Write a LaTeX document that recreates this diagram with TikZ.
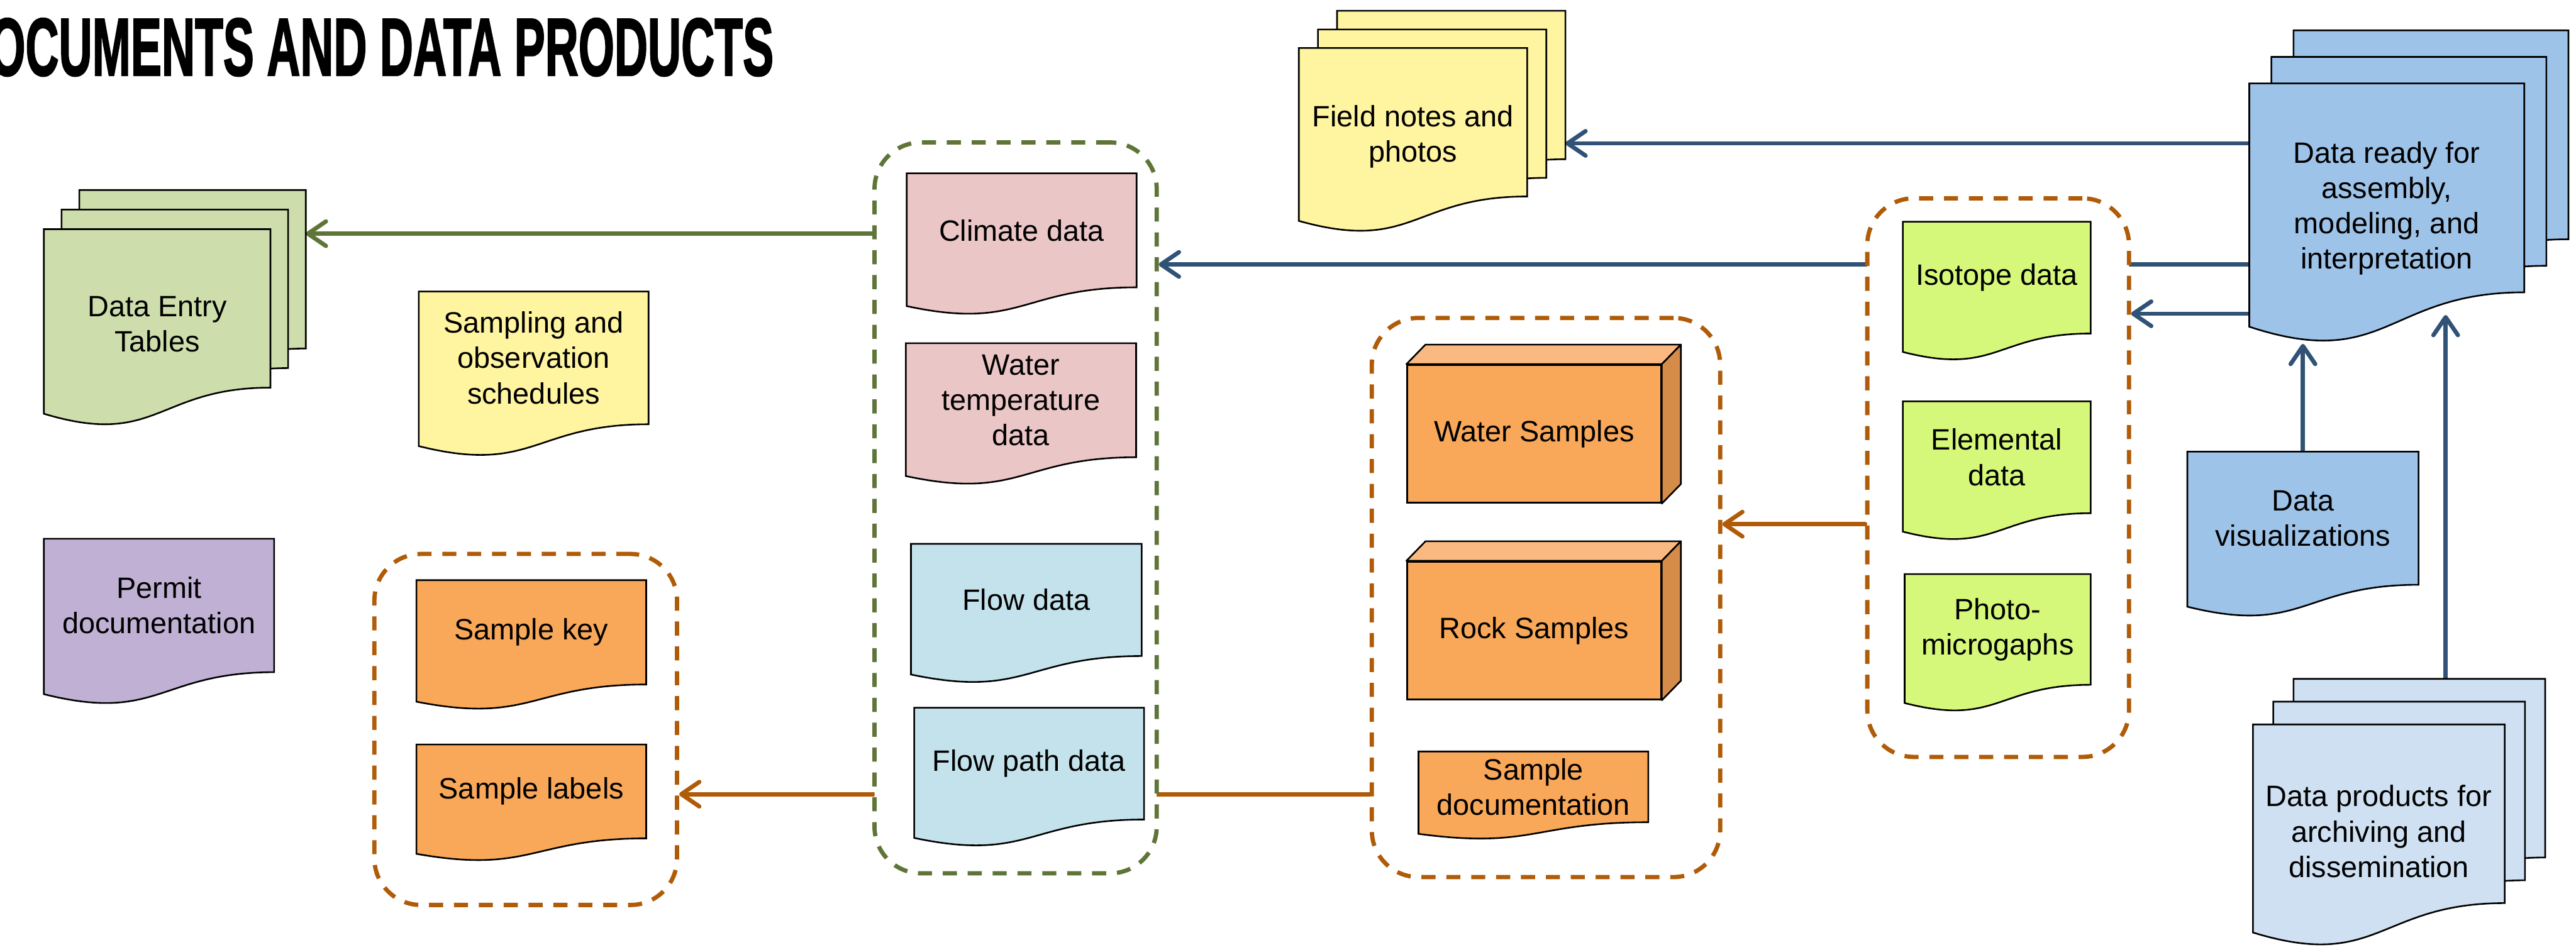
\documentclass[tikz,border=0pt]{standalone}
\usepackage{fontspec}
\setmainfont{Liberation Sans}
\newfontfamily\titlefont[BoldFeatures={FakeBold=2}]{Liberation Sans}
\usetikzlibrary{arrows.meta, positioning, calc}

\definecolor{olivegreen}{RGB}{95,117,55}
\definecolor{rust}{RGB}{175,91,7}
\definecolor{steelblue}{RGB}{48,82,118}
\definecolor{entrygreen}{RGB}{205,222,172}
\definecolor{noteyellow}{RGB}{255,244,160}
\definecolor{permitpurple}{RGB}{192,177,212}
\definecolor{samporange}{RGB}{248,168,88}
\definecolor{cubetop}{RGB}{250,185,128}
\definecolor{cubeside}{RGB}{212,140,72}
\definecolor{climatepink}{RGB}{235,198,198}
\definecolor{flowblue}{RGB}{196,226,235}
\definecolor{isolime}{RGB}{214,248,122}
\definecolor{readyblue}{RGB}{158,195,232}
\definecolor{prodblue}{RGB}{206,224,242}

\pgfdeclarelayer{background}
\pgfdeclarelayer{frames}
\pgfsetlayers{background,frames,main}

% flowchart "document" shape: rectangle with a wavy bottom
\newdimen\docxa \newdimen\docxb \newdimen\docxm
\newdimen\docyt \newdimen\docyr \newdimen\docyc \newdimen\docyl \newdimen\doch
\pgfkeys{/pgf/document raise/.initial=0.099}
\makeatletter
\pgfdeclareshape{document}{
  \inheritsavedanchors[from=rectangle]
  \inheritanchorborder[from=rectangle]
  \inheritanchor[from=rectangle]{center}
  \inheritanchor[from=rectangle]{north}
  \inheritanchor[from=rectangle]{south}
  \inheritanchor[from=rectangle]{east}
  \inheritanchor[from=rectangle]{west}
  \inheritanchor[from=rectangle]{north east}
  \inheritanchor[from=rectangle]{north west}
  \inheritanchor[from=rectangle]{south east}
  \inheritanchor[from=rectangle]{south west}
  % text sits above the wave
  \anchor{text}{%
    \northeast \pgf@ya=\pgf@y
    \southwest \advance\pgf@ya by -\pgf@y
    \pgf@x=0pt
    \pgf@y=\pgfkeysvalueof{/pgf/document raise}\pgf@ya
  }
  \backgroundpath{%
    \southwest \docxa=\pgf@x
    \northeast \docxb=\pgf@x \docyt=\pgf@y
    \southwest \doch=\docyt \advance\doch by -\pgf@y
    \docxm=\docxa \advance\docxm by \docxb \docxm=0.5\docxm
    \docyr=\docyt \advance\docyr by -0.802\doch
    \docyc=\docyt \advance\docyc by -1.1075\doch
    \docyl=\docyt \advance\docyl by -0.934\doch
    \pgfpathmoveto{\pgfqpoint{\docxa}{\docyt}}
    \pgfpathlineto{\pgfqpoint{\docxb}{\docyt}}
    \pgfpathlineto{\pgfqpoint{\docxb}{\docyr}}
    \pgfpathcurveto{\pgfqpoint{\docxm}{\docyr}}{\pgfqpoint{\docxm}{\docyc}}{\pgfqpoint{\docxa}{\docyl}}
    \pgfpathclose
  }
}
\makeatother

\begin{document}
\begin{tikzpicture}[
  docnode/.style={shape=document, draw=black, line width=0.5pt, inner sep=0pt,
                  align=center, font=\fontsize{9}{10.8}\selectfont},
  multi/.style={/pgf/document raise=0.02},
  crate/.style={draw=black, line width=0.5pt, fill=samporange, inner sep=0pt,
                font=\fontsize{9}{10.8}\selectfont},
  cubeline/.style={draw=black, line width=0.5pt, line join=round},
  dashbox/.style={draw=#1, fill=white, line width=1.3pt, rounded corners=0.5cm,
                  dash pattern=on 4.3pt off 3.3pt, inner sep=0pt},
  conn/.style={draw=#1, line width=1.3pt, line cap=round,
               -{Straight Barb[length=5.5pt,width=7.5pt,round]}}
]
  \useasboundingbox (0,0) rectangle (27.66,-10.2);

  % Title (cut at the left edge)
  \node[anchor=base west, inner sep=0pt, font=\fontsize{25}{25}\selectfont\titlefont\bfseries]
    (title) at (-0.12,-0.81) {\scalebox{0.565}[1]{OCUMENTS AND DATA PRODUCTS}};

  % Dashed groups
  \begin{pgfonlayer}{frames}
    \node[dashbox=olivegreen, minimum width=3.03cm, minimum height=7.85cm] (greencont) at (10.905,-5.455) {};
    \node[dashbox=rust, minimum width=3.25cm, minimum height=3.77cm] (labelcont) at (5.645,-7.835) {};
    \node[dashbox=rust, minimum width=3.74cm, minimum height=6.005cm] (sampcont) at (16.6,-6.4175) {};
    \node[dashbox=rust, minimum width=2.81cm, minimum height=6cm] (isocont) at (21.455,-5.13) {};
  \end{pgfonlayer}

  % Left column
  \foreach \k in {2,1}
    \node[docnode, fill=entrygreen, minimum width=2.415cm, minimum height=2.105cm]
      (entry\k) at (1.6875+0.19*\k, -3.5225+0.21*\k) {};
  \node[docnode, multi, fill=entrygreen, minimum width=2.415cm, minimum height=2.105cm]
    (entry) at (1.6875,-3.5225) {Data Entry\\Tables};
  \node[docnode, fill=noteyellow, minimum width=2.45cm, minimum height=1.76cm]
    (sched) at (5.73,-4.02) {Sampling and\\observation\\schedules};
  \node[docnode, fill=permitpurple, minimum width=2.455cm, minimum height=1.77cm]
    (permit) at (1.7075,-6.68) {Permit\\documentation};
  \node[docnode, fill=samporange, minimum width=2.45cm, minimum height=1.38cm]
    (key) at (5.705,-6.93) {Sample key};
  \node[docnode, fill=samporange, minimum width=2.45cm, minimum height=1.24cm]
    (labels) at (5.705,-8.625) {Sample labels};

  % Field data
  \node[docnode, fill=climatepink, minimum width=2.45cm, minimum height=1.51cm]
    (climate) at (10.97,-2.625) {Climate data};
  \node[docnode, fill=climatepink, minimum width=2.455cm, minimum height=1.51cm]
    (watertemp) at (10.9625,-4.45) {Water\\temperature\\data};
  \node[docnode, fill=flowblue, minimum width=2.46cm, minimum height=1.485cm]
    (flow) at (11.02,-6.5925) {Flow data};
  \node[docnode, fill=flowblue, minimum width=2.45cm, minimum height=1.48cm]
    (flowpath) at (11.05,-8.35) {Flow path data};

  % Field notes
  \foreach \k in {2,1}
    \node[docnode, fill=noteyellow, minimum width=2.435cm, minimum height=1.97cm]
      (field\k) at (15.1725+0.205*\k, -1.51+0.2*\k) {};
  \node[docnode, multi, fill=noteyellow, minimum width=2.435cm, minimum height=1.97cm]
    (field) at (15.1725,-1.51) {Field notes and\\photos};

  % Samples
  \foreach \n/\y/\t in {water/-4.66/Water Samples, rock/-6.7725/Rock Samples} {
    \node[crate, minimum width=2.725cm, minimum height=1.48cm] (\n) at (16.4725,\y) {\t};
    \draw[cubeline, fill=cubetop] (\n.north west) -- ++(0.205,0.21)
      -- ($(\n.north east)+(0.205,0.21)$) -- (\n.north east) -- cycle;
    \draw[cubeline, fill=cubeside] (\n.north east) -- ++(0.205,0.21)
      -- ($(\n.south east)+(0.205,0.21)$) -- (\n.south east) -- cycle;
  }
  \node[docnode, fill=samporange, minimum width=2.45cm, minimum height=0.93cm]
    (sampdoc) at (16.465,-8.545) {Sample\\documentation};

  % Lab data
  \node[docnode, fill=isolime, minimum width=2cm, minimum height=1.48cm]
    (isotope) at (21.44,-3.13) {Isotope data};
  \node[docnode, fill=isolime, minimum width=2cm, minimum height=1.48cm]
    (elemental) at (21.44,-5.06) {Elemental\\data};
  \node[docnode, fill=isolime, minimum width=1.98cm, minimum height=1.465cm]
    (photo) at (21.45,-6.9075) {Photo-\\microgaphs};

  % Products
  \foreach \k in {2,1}
    \node[docnode, fill=readyblue, minimum width=2.935cm, minimum height=2.78cm]
      (ready\k) at (25.6275+0.2375*\k, -2.295+0.285*\k) {};
  \node[docnode, multi, fill=readyblue, minimum width=2.935cm, minimum height=2.78cm]
    (ready) at (25.6275,-2.295) {Data ready for\\assembly,\\modeling, and\\interpretation};
  \node[docnode, fill=readyblue, minimum width=2.465cm, minimum height=1.765cm]
    (viz) at (24.7275,-5.7425) {Data\\visualizations};
  \foreach \k in {2,1}
    \node[docnode, fill=prodblue, minimum width=2.685cm, minimum height=2.375cm]
      (prod\k) at (25.5425+0.2175*\k, -8.9775+0.245*\k) {};
  \node[docnode, multi, fill=prodblue, minimum width=2.685cm, minimum height=2.375cm]
    (prod) at (25.5425,-8.9775) {Data products for\\archiving and\\dissemination};

  % Connectors
  \begin{pgfonlayer}{background}
    \draw[conn=olivegreen] (greencont.west |- 0,-2.51) -- (entry2.east |- 0,-2.51);
    \draw[conn=steelblue] (ready.west |- 0,-1.54) -- (field2.east |- 0,-1.54);
    \draw[conn=steelblue] (ready.west |- 0,-2.84) -- (greencont.east |- 0,-2.84);
    \draw[conn=steelblue] (ready.west |- 0,-3.37) -- (isocont.east |- 0,-3.37);
    \draw[conn=steelblue] (viz.north) -- (viz.north |- ready.south);
    \draw[conn=steelblue, shorten >=-0.31cm] (prod2.north -| 26.26,0) -- (ready.south -| 26.26,0);
    \draw[conn=rust] (isocont.west |- 0,-5.63) -- (sampcont.east |- 0,-5.63);
    \draw[conn=rust] (sampcont.west |- 0,-8.53) -- (labelcont.east |- 0,-8.53);
  \end{pgfonlayer}
\end{tikzpicture}
\end{document}
